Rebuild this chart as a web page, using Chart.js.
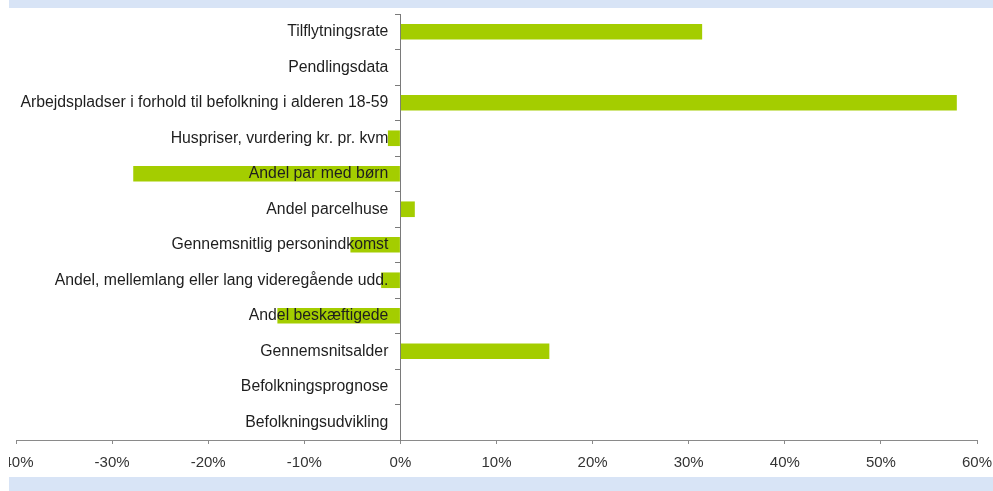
<!DOCTYPE html>
<html>
<head>
<meta charset="utf-8">
<script src="https://cdn.jsdelivr.net/npm/chart.js@4.4.1/dist/chart.umd.min.js"></script>
<style>
  html, body { margin: 0; padding: 0; background: #fff; width: 993px; height: 491px; overflow: hidden; }
  .band { position: absolute; left: 9px; right: 0; background: #d8e4f6; }
  #top { top: 0; height: 8px; }
  #bottom { top: 477px; height: 14px; }
  #wrap { position: absolute; left: 9px; top: 8px; width: 984px; height: 469px; overflow: hidden; background: #fff; }
  #chart { position: absolute; left: -25px; top: -20px; }
</style>
</head>
<body>
<div class="band" id="top"></div>
<div class="band" id="bottom"></div>
<div id="wrap"><canvas id="chart" width="1026" height="494"></canvas></div>
<script>
const categories = [
    'Tilflytningsrate',
    'Pendlingsdata',
    'Arbejdspladser i forhold til befolkning i alderen 18-59',
    'Huspriser, vurdering kr. pr. kvm',
    'Andel par med børn',
    'Andel parcelhuse',
    'Gennemsnitlig personindkomst',
    'Andel, mellemlang eller lang videregående udd.',
    'Andel beskæftigede',
    'Gennemsnitsalder',
    'Befolkningsprognose',
    'Befolkningsudvikling'
];
const values = [31.4, 0, 57.9, -1.3, -27.8, 1.5, -5.2, -2.0, -12.8, 15.5, 0, 0];
const xMin = -40;
const xMax = 60;
const xStep = 10;

const canvas = document.getElementById('chart');
canvas.style.width = '1026px';
canvas.style.height = '494px';

const labelFont = { family: 'Liberation Sans', size: 15.8 };

new Chart(canvas.getContext('2d'), {
    type: 'bar',
    data: {
        labels: categories,
        datasets: [{
            data: values,
            backgroundColor: '#a4cd00',
            borderWidth: 0,
            barPercentage: 0.44,
            categoryPercentage: 1
        }]
    },
    options: {
        indexAxis: 'y',
        responsive: false,
        animation: false,
        devicePixelRatio: 1,
        layout: { padding: { left: 32, right: 33, top: 26, bottom: 0 } },
        plugins: { legend: { display: false }, tooltip: { enabled: false } },
        scales: {
            x: {
                min: xMin,
                max: xMax,
                border: { display: true, color: '#8a8a8a', width: 1 },
                grid: { drawOnChartArea: false, drawTicks: true, tickLength: 4, color: '#8a8a8a' },
                ticks: {
                    stepSize: xStep,
                    padding: 10,
                    color: '#333',
                    font: { family: 'Liberation Sans', size: 15 },
                    callback: (v) => v + '%'
                }
            },
            // axis line and tick marks at zero
            y: {
                position: { x: 0 },
                border: { display: true, color: '#7a7a7a', width: 1 },
                grid: { drawOnChartArea: false, drawTicks: true, tickLength: 5, color: '#7a7a7a', offset: true },
                ticks: { display: false }
            },
            // category names, a little left of zero, drawn over the bars
            yLabels: {
                type: 'category',
                axis: 'y',
                position: { x: -1.25 },
                border: { display: false },
                grid: { display: false },
                ticks: {
                    z: 1,
                    color: '#1e1e1e',
                    font: labelFont
                }
            }
        }
    }
});
</script>
</body>
</html>
